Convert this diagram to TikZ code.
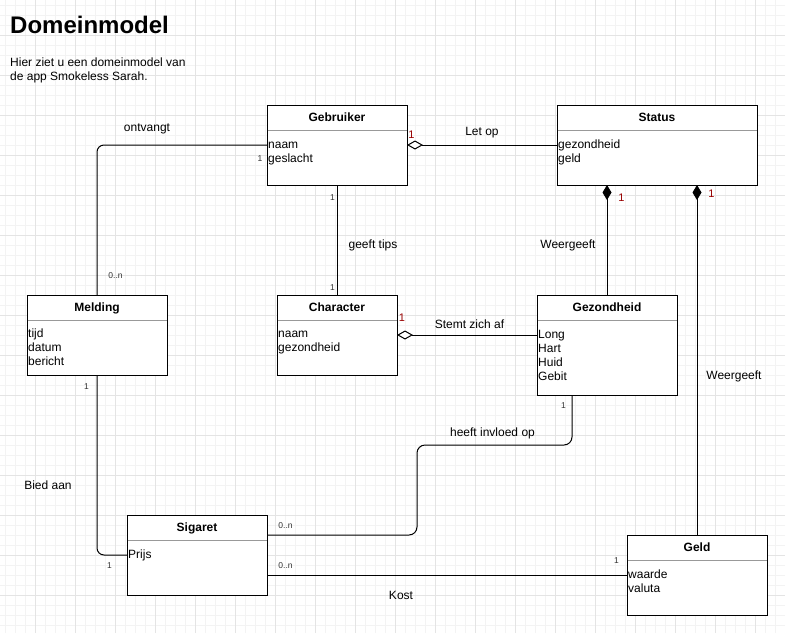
\documentclass[tikz,border=0pt]{standalone}
\usepackage{fontspec}
\setmainfont{Liberation Sans}
\usetikzlibrary{arrows.meta}
\definecolor{mred}{HTML}{990000}
\definecolor{mgray}{HTML}{333333}
\definecolor{gridmin}{HTML}{F3F3F3}
\definecolor{gridmaj}{HTML}{E4E4E4}
\definecolor{sepgray}{HTML}{999999}
\tikzset{
  clsbox/.style={draw=black, line width=1pt, fill=white, inner sep=0pt, outer sep=0pt, anchor=north west},
  ctitle/.style={font=\fontsize{12}{14}\selectfont\bfseries, anchor=base, inner sep=0pt},
  attr/.style={font=\fontsize{12}{14}\selectfont, anchor=base west, inner sep=0pt},
  lbl/.style={font=\fontsize{12}{14}\selectfont, anchor=base, inner sep=0pt},
  mult/.style={font=\fontsize{8.5}{10}\selectfont, text=mgray, anchor=base, inner sep=0pt},
  multred/.style={font=\fontsize{11}{13}\selectfont, text=mred, anchor=base, inner sep=0pt},
  conn/.style={line width=1pt, draw=black},
  aggr/.style={conn, {Diamond[open, fill=white, length=16pt, width=9pt, line width=1pt]}-},
  comp/.style={conn, {Diamond[length=15pt, width=9pt]}-},
  sepline/.style={draw=sepgray, line width=1pt},
}
\begin{document}
\begin{tikzpicture}[x=1pt, y=-1pt]
\useasboundingbox (0,0) rectangle (785,633);
\fill[white] (0,0) rectangle (785,633);
\foreach \x in {5,15,...,785} \draw[gridmin, line width=0.6pt] (\x,0) -- (\x,633);
\foreach \y in {5,15,...,633} \draw[gridmin, line width=0.6pt] (0,\y) -- (785,\y);
\foreach \x in {35,75,...,785} \draw[gridmaj, line width=0.8pt] (\x,0) -- (\x,633);
\foreach \y in {35,75,...,633} \draw[gridmaj, line width=0.8pt] (0,\y) -- (785,\y);

% heading
\node[font=\fontsize{24}{28}\selectfont\bfseries, anchor=base west, inner sep=0pt] (head) at (10,33) {Domeinmodel};
\node[attr] (sub1) at (10,66) {Hier ziet u een domeinmodel van};
\node[attr] (sub2) at (10,80) {de app Smokeless Sarah.};

% classes
\node[clsbox, minimum width=140pt, minimum height=80pt] (geb) at (267,105) {};
\node[clsbox, minimum width=200pt, minimum height=80pt] (stat) at (557,105) {};
\node[clsbox, minimum width=140pt, minimum height=80pt] (mel) at (27,295) {};
\node[clsbox, minimum width=120pt, minimum height=80pt] (char) at (277,295) {};
\node[clsbox, minimum width=140pt, minimum height=100pt] (gez) at (537,295) {};
\node[clsbox, minimum width=140pt, minimum height=80pt] (sig) at (127,515) {};
\node[clsbox, minimum width=140pt, minimum height=80pt] (geld) at (627,535) {};

\foreach \b in {geb,stat,mel,char,gez,sig,geld}
  \draw[sepline] ([yshift=-25pt,xshift=0.5pt]\b.north west) -- ([yshift=-25pt,xshift=-0.5pt]\b.north east);

\node[ctitle] (geb-t) at ([yshift=-16pt]geb.north) {Gebruiker};
\node[ctitle] (stat-t) at ([yshift=-16pt]stat.north) {Status};
\node[ctitle] (mel-t) at ([yshift=-16pt]mel.north) {Melding};
\node[ctitle] (char-t) at ([yshift=-16pt]char.north) {Character};
\node[ctitle] (gez-t) at ([yshift=-16pt]gez.north) {Gezondheid};
\node[ctitle] (sig-t) at ([yshift=-16pt]sig.north) {Sigaret};
\node[ctitle] (geld-t) at ([yshift=-16pt]geld.north) {Geld};

\node[attr] (geb-a1) at ([xshift=1pt,yshift=-43pt]geb.north west) {naam};
\node[attr] (geb-a2) at ([xshift=1pt,yshift=-57pt]geb.north west) {geslacht};
\node[attr] (stat-a1) at ([xshift=1pt,yshift=-43pt]stat.north west) {gezondheid};
\node[attr] (stat-a2) at ([xshift=1pt,yshift=-57pt]stat.north west) {geld};
\node[attr] (mel-a1) at ([xshift=1pt,yshift=-42pt]mel.north west) {tijd};
\node[attr] (mel-a2) at ([xshift=1pt,yshift=-56pt]mel.north west) {datum};
\node[attr] (mel-a3) at ([xshift=1pt,yshift=-70pt]mel.north west) {bericht};
\node[attr] (char-a1) at ([xshift=1pt,yshift=-42pt]char.north west) {naam};
\node[attr] (char-a2) at ([xshift=1pt,yshift=-56pt]char.north west) {gezondheid};
\node[attr] (gez-a1) at ([xshift=1pt,yshift=-43pt]gez.north west) {Long};
\node[attr] (gez-a2) at ([xshift=1pt,yshift=-57pt]gez.north west) {Hart};
\node[attr] (gez-a3) at ([xshift=1pt,yshift=-71pt]gez.north west) {Huid};
\node[attr] (gez-a4) at ([xshift=1pt,yshift=-85pt]gez.north west) {Gebit};
\node[attr] (sig-a1) at ([xshift=1pt,yshift=-43pt]sig.north west) {Prijs};
\node[attr] (geld-a1) at ([xshift=1pt,yshift=-43pt]geld.north west) {waarde};
\node[attr] (geld-a2) at ([xshift=1pt,yshift=-57pt]geld.north west) {valuta};

% connectors
\draw[aggr] (geb.east) -- (stat.west);
\draw[conn, rounded corners=7pt] (geb.west) -| (mel.north);
\draw[conn] (geb.south) -- (char.north);
\draw[comp] (stat.south -| gez.north) -- (gez.north);
\draw[comp] (stat.south -| geld.north) -- (geld.north);
\draw[aggr] (char.east) -- (char.east -| gez.west);
\draw[conn, rounded corners=8pt] ([xshift=-35pt]gez.south) -- ++(0,50) -- ++(-155,0) -- ++(0,90) -- ([yshift=-20pt]sig.north east);
\draw[conn, rounded corners=7pt] (mel.south) |- (sig.west);
\draw[conn] (geld.west -| sig.east) -- (geld.west);

% association labels
\node[lbl] (l-ontv) at (147,131) {ontvangt};
\node[lbl] (l-let) at (482,135) {Let op};
\node[lbl] (l-tips) at (373,248) {geeft tips};
\node[lbl] (l-wg1) at (568,248) {Weergeeft};
\node[lbl] (l-stemt) at (469.5,328) {Stemt zich af};
\node[lbl] (l-wg2) at (734,379) {Weergeeft};
\node[lbl] (l-inv) at (492.5,436.5) {heeft invloed op};
\node[lbl] (l-bied) at (48,489) {Bied aan};
\node[lbl] (l-kost) at (401,599) {Kost};

% multiplicities
\node[multred] (m1) at (411.5,138) {1};
\node[multred] (m2) at (621.5,201) {1};
\node[multred] (m3) at (711.5,197) {1};
\node[multred] (m4) at (402,321) {1};
\node[mult] (m5) at (260,161) {1};
\node[mult] (m6) at (115.5,278) {0..n};
\node[mult] (m7) at (332.5,200) {1};
\node[mult] (m8) at (332.5,290) {1};
\node[mult] (m9) at (86.5,389) {1};
\node[mult] (m10) at (109.5,568) {1};
\node[mult] (m11) at (285.5,528) {0..n};
\node[mult] (m12) at (285.5,568) {0..n};
\node[mult] (m13) at (563.5,408) {1};
\node[mult] (m14) at (616.5,563) {1};
\end{tikzpicture}
\end{document}
